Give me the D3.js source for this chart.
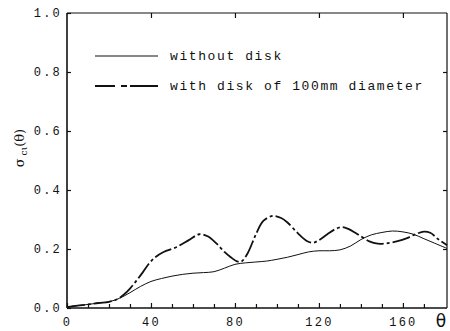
<!DOCTYPE html>
<html lang="en">
<head>
<meta charset="UTF-8">
<title>sigma ci theta</title>
<script src="https://cdn.jsdelivr.net/npm/d3@7"></script>
<style>
  body { margin: 0; background: #fff; }
  text { font-family: "Liberation Mono", "DejaVu Sans Mono", monospace; fill: #111; }
</style>
</head>
<body>
<svg id="mainsvg" width="450" height="331"></svg>
<script>
// data
const thetaA = [0, 5, 10, 15, 20, 25, 30, 35, 40, 45, 50, 55, 60, 65, 70, 75, 80, 85, 90, 95, 100,
                105, 110, 115, 120, 125, 130, 135, 140, 145, 150, 155, 160, 165, 170, 175, 181];
const withoutDisk = [0.003, 0.008, 0.012, 0.017, 0.021, 0.033, 0.052, 0.073, 0.09, 0.1, 0.108, 0.114, 0.118,
                     0.12, 0.123, 0.135, 0.148, 0.153, 0.156, 0.159, 0.165, 0.172, 0.181, 0.19, 0.194, 0.194,
                     0.197, 0.21, 0.232, 0.248, 0.256, 0.261, 0.258, 0.25, 0.235, 0.22, 0.202];
const thetaB = [0, 5, 10, 15, 20, 24, 27, 30, 33, 36, 39, 42, 46, 52, 58, 63, 67, 71, 75, 78, 81, 83, 86,
                90, 93.5, 98, 102, 105, 110, 114, 117, 120, 124, 128, 131, 134, 138, 144, 148, 152, 157,
                162, 166, 170, 173, 177, 181];
const withDisk = [0.003, 0.008, 0.012, 0.017, 0.021, 0.03, 0.045, 0.066, 0.092, 0.12, 0.15, 0.172, 0.19,
                  0.206, 0.23, 0.25, 0.243, 0.22, 0.19, 0.172, 0.158, 0.157, 0.185, 0.25, 0.295, 0.312,
                  0.305, 0.29, 0.253, 0.228, 0.221, 0.23, 0.25, 0.268, 0.274, 0.268, 0.252, 0.226, 0.218,
                  0.219, 0.226, 0.237, 0.25, 0.259, 0.255, 0.232, 0.213];
const xTicks = [0, 40, 80, 120, 160];
const xMinor = [10, 20, 30, 50, 60, 70, 90, 100, 110, 130, 140, 150, 170];
const yTicks = [0, 0.2, 0.4, 0.6, 0.8, 1.0];
const legendLabels = ["without disk", "with disk of 100mm diameter"];

const svg = d3.select('#mainsvg');
const x = d3.scaleLinear().domain([0, 181]).range([67, 447]);
const y = d3.scaleLinear().domain([0, 1]).range([308, 13]);

// frame
svg.append('line').attr('x1', x(0)).attr('x2', x(0)).attr('y1', y(0)).attr('y2', y(1))
   .attr('stroke', '#111').attr('stroke-width', 1.6);
svg.append('line').attr('x1', x(0)).attr('x2', x(181)).attr('y1', y(0)).attr('y2', y(0))
   .attr('stroke', '#111').attr('stroke-width', 1.6);
svg.append('line').attr('x1', x(0)).attr('x2', x(181)).attr('y1', y(1)).attr('y2', y(1))
   .attr('stroke', '#111').attr('stroke-width', 1.2);
svg.append('line').attr('x1', x(181)).attr('x2', x(181)).attr('y1', y(0)).attr('y2', y(1))
   .attr('stroke', '#111').attr('stroke-width', 1.2);

// axes (ticks point inward)
const bottom = svg.append('g').attr('transform', `translate(0,${y(0)})`)
  .call(d3.axisBottom(x).tickValues(xTicks).tickSize(-5).tickPadding(9).tickFormat(d3.format('d')));
bottom.select('.domain').remove();
svg.append('g').attr('transform', `translate(0,${y(0)})`)
  .call(d3.axisBottom(x).tickValues(xMinor).tickSize(-4).tickFormat(''))
  .select('.domain').remove();
svg.append('g').attr('transform', `translate(0,${y(1)})`)
  .call(d3.axisTop(x).tickValues(xTicks.slice(1)).tickSize(-5).tickFormat(''))
  .select('.domain').remove();

const left = svg.append('g').attr('transform', `translate(${x(0)},0)`)
  .call(d3.axisLeft(y).tickValues(yTicks).tickSize(-4).tickPadding(5).tickFormat(d3.format('.1f')));
left.select('.domain').remove();
svg.append('g').attr('transform', `translate(${x(181)},0)`)
  .call(d3.axisRight(y).tickValues(yTicks.slice(1, 5)).tickSize(-4).tickFormat(''))
  .select('.domain').remove();

svg.selectAll('.tick line').attr('stroke', '#111').attr('stroke-width', 1.2);
svg.selectAll('.tick text')
  .style('font-family', '"Liberation Mono", monospace')
  .style('font-size', '12px').style('letter-spacing', '2.2px').attr('fill', '#111');

// curves
const line = d3.line().x(d => x(d[0])).y(d => y(d[1])).curve(d3.curveCatmullRom.alpha(0.5));
svg.append('path').datum(d3.zip(thetaA, withoutDisk)).attr('d', line)
   .attr('fill', 'none').attr('stroke', '#111').attr('stroke-width', 1);
svg.append('path').datum(d3.zip(thetaB, withDisk)).attr('d', line)
   .attr('fill', 'none').attr('stroke', '#111').attr('stroke-width', 1.8)
   .attr('stroke-dasharray', '18,3,3,3');

// legend
const legend = svg.append('g');
legendLabels.forEach((t, i) => {
  const ly = 56 + i * 30;
  legend.append('line').attr('x1', 95).attr('x2', 158).attr('y1', ly).attr('y2', ly)
    .attr('stroke', '#111').attr('stroke-width', i === 0 ? 1.2 : 1.8)
    .attr('stroke-dasharray', i === 0 ? null : '20,6,6,3,14,0');
  legend.append('text').attr('x', 170).attr('y', ly + 4)
    .style('font-size', '13px').style('letter-spacing', '1.6px').text(t);
});

// axis titles
const ylab = svg.append('text').attr('transform', 'translate(24,148) rotate(-90)')
  .attr('text-anchor', 'middle').style('font-family', '"DejaVu Serif", serif').style('font-size', '13px');
ylab.append('tspan').text('σ');
ylab.append('tspan').attr('dy', 3).style('font-size', '9px').text(' cι');
ylab.append('tspan').attr('dy', -3).text('(θ)');

svg.append('text').attr('x', 441).attr('y', 327).attr('text-anchor', 'middle')
  .style('font-family', '"DejaVu Sans", sans-serif').style('font-size', '17px').text('θ');
</script>
</body>
</html>
